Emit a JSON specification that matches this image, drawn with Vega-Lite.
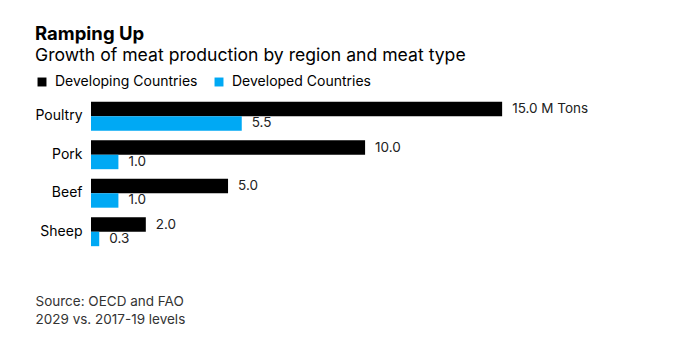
{
  "$schema": "https://vega.github.io/schema/vega-lite/v6.json",
  "autosize": {"type": "none"},
  "width": 603,
  "height": 154,
  "padding": {"left": 91, "top": 97, "right": 6, "bottom": 102},
  "background": "white",
  "title": {
    "text": "Ramping Up",
    "subtitle": "Growth of meat production by region and meat type",
    "anchor": "start",
    "frame": "group",
    "dx": -56,
    "offset": 10,
    "font": "Inter",
    "fontSize": 18.5,
    "fontWeight": "bold",
    "color": "#000000",
    "subtitleFont": "Inter",
    "subtitleFontSize": 17.6,
    "subtitleColor": "#000000",
    "subtitlePadding": 4
  },
  "data": {
    "values": [
      {"meat": "Poultry", "series": "Developing Countries", "value": 15.0, "label": "15.0 M Tons"},
      {"meat": "Poultry", "series": "Developed Countries", "value": 5.5, "label": "5.5"},
      {"meat": "Pork", "series": "Developing Countries", "value": 10.0, "label": "10.0"},
      {"meat": "Pork", "series": "Developed Countries", "value": 1.0, "label": "1.0"},
      {"meat": "Beef", "series": "Developing Countries", "value": 5.0, "label": "5.0"},
      {"meat": "Beef", "series": "Developed Countries", "value": 1.0, "label": "1.0"},
      {"meat": "Sheep", "series": "Developing Countries", "value": 2.0, "label": "2.0"},
      {"meat": "Sheep", "series": "Developed Countries", "value": 0.3, "label": "0.3"}
    ]
  },
  "encoding": {
    "y": {
      "field": "meat",
      "type": "nominal",
      "sort": ["Poultry", "Pork", "Beef", "Sheep"],
      "scale": {"paddingInner": 0.25, "paddingOuter": 0.125},
      "axis": {
        "title": null,
        "domain": false,
        "ticks": false,
        "labelPadding": 9,
        "labelFont": "Inter",
        "labelFontSize": 14,
        "labelColor": "#000000"
      }
    },
    "yOffset": {
      "field": "series",
      "type": "nominal",
      "sort": ["Developing Countries", "Developed Countries"],
      "scale": {"paddingInner": 0, "paddingOuter": 0}
    },
    "x": {
      "field": "value",
      "type": "quantitative",
      "scale": {"domain": [0, 22], "nice": false},
      "axis": {
        "title": ["Source: OECD and FAO", "2029 vs. 2017-19 levels"],
        "titleFont": "Inter",
        "titleFontSize": 13.5,
        "titleFontWeight": "normal",
        "titleColor": "#333333",
        "titleAnchor": "start",
        "titleAlign": "left",
        "titleBaseline": "alphabetic",
        "titleX": -56,
        "titleY": 54,
        "titleLineHeight": 18,
        "labels": false,
        "ticks": false,
        "domain": false,
        "grid": false
      }
    }
  },
  "layer": [
    {
      "mark": {"type": "bar"},
      "encoding": {
        "color": {
          "field": "series",
          "type": "nominal",
          "scale": {
            "domain": ["Developing Countries", "Developed Countries"],
            "range": ["#000000", "#00a9f4"]
          },
          "legend": {
            "title": null,
            "orient": "none",
            "direction": "horizontal",
            "legendX": -56,
            "legendY": -22,
            "symbolType": "square",
            "symbolSize": 80,
            "symbolStrokeWidth": 0,
            "labelFont": "Inter",
            "labelFontSize": 14,
            "labelColor": "#000000",
            "columnPadding": 14,
            "labelOffset": 6
          }
        }
      }
    },
    {
      "mark": {
        "type": "text",
        "align": "left",
        "baseline": "middle",
        "dx": 10,
        "font": "Inter",
        "fontSize": 13.5,
        "color": "#222222"
      },
      "encoding": {
        "text": {"field": "label"}
      }
    }
  ],
  "config": {
    "view": {"stroke": null}
  }
}
